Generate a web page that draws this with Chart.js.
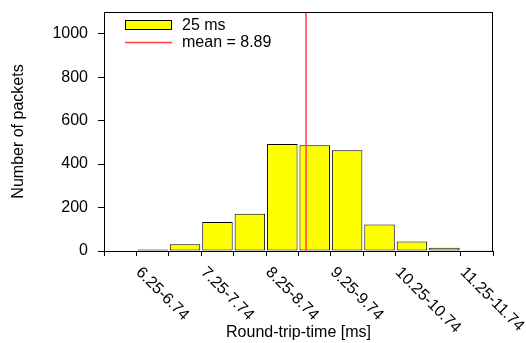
<!DOCTYPE html>
<html>
<head>
<meta charset="utf-8">
<script src="https://cdn.jsdelivr.net/npm/chart.js@4.4.0/dist/chart.umd.min.js"></script>
<style>
  html, body { margin: 0; padding: 0; background: #fff; }
  #wrap { width: 526px; height: 343px; }
</style>
</head>
<body>
<div id="wrap"><canvas id="rtt" width="526" height="343"></canvas></div>
<script>
// histogram bins, 0.5 ms wide (first slot stays empty)
const bins = ['5.75-6.24', '6.25-6.74', '6.75-7.24', '7.25-7.74', '7.75-8.24', '8.25-8.74',
  '8.75-9.24', '9.25-9.74', '9.75-10.24', '10.25-10.74', '10.75-11.24', '11.25-11.74'];
const packets = [null, 7, 31, 133, 171, 493, 487, 464, 122, 44, 15, 3];
const labeledBins = ['6.25-6.74', '7.25-7.74', '8.25-8.74', '9.25-9.74', '10.25-10.74', '11.25-11.74'];
const yTicks = [0, 200, 400, 600, 800, 1000];
const yMax = 1100;
const meanRtt = 8.89;
const rttRange = [5.75, 11.75];

const FONT = '"Liberation Sans", Arial, sans-serif';
Chart.defaults.font.family = FONT;
Chart.defaults.font.size = 16;
Chart.defaults.color = '#000';

// x labels are written from the tick downwards, like gnuplot does
const rotatedTicks = {
  id: 'rotatedTicks',
  afterDraw(chart) {
    const ctx = chart.ctx;
    const x = chart.scales.x;
    const y0 = chart.chartArea.bottom;
    ctx.save();
    ctx.font = '16px ' + FONT;
    ctx.fillStyle = '#000';
    ctx.textAlign = 'left';
    ctx.textBaseline = 'middle';
    bins.forEach(function(b, i) {
      if (!labeledBins.includes(b)) return;
      const px = x.getPixelForValue(i - 0.5);
      ctx.save();
      ctx.translate(px + 2, y0 + 19);
      ctx.rotate(Math.PI / 4);
      ctx.fillText(b, 0, 0);
      ctx.restore();
    });
    ctx.restore();
  }
};

// frame around the plot + legend inside the top left corner
const frameAndKey = {
  id: 'frameAndKey',
  afterDatasetsDraw(chart) {
    const ctx = chart.ctx;
    const a = chart.chartArea;
    ctx.save();
    ctx.strokeStyle = '#000';
    ctx.lineWidth = 1;
    ctx.strokeRect(Math.round(a.left) + 0.5, Math.round(a.top) + 0.5,
      Math.round(a.right - a.left) - 1, Math.round(a.bottom - a.top));

    const ds = chart.data.datasets;
    const kx = Math.round(a.left) + 21, w = 47;
    const ky = Math.round(a.top);
    ctx.fillStyle = ds[0].backgroundColor;
    ctx.fillRect(kx, ky + 8, w, 9);
    ctx.strokeStyle = ds[0].borderColor;
    ctx.strokeRect(kx + 0.5, ky + 8.5, w - 1, 9);
    ctx.strokeStyle = ds[1].borderColor;
    ctx.lineWidth = ds[1].borderWidth;
    ctx.beginPath();
    ctx.moveTo(kx, ky + 30.5);
    ctx.lineTo(kx + w, ky + 30.5);
    ctx.stroke();

    ctx.font = '16px ' + FONT;
    ctx.fillStyle = '#000';
    ctx.textAlign = 'left';
    ctx.textBaseline = 'middle';
    ctx.fillText(ds[0].label, kx + w + 10, ky + 13.5);
    ctx.fillText(ds[1].label, kx + w + 10, ky + 30.5);
    ctx.restore();
  }
};

new Chart(document.getElementById('rtt'), {
  type: 'bar',
  data: {
    labels: bins,
    datasets: [{
      label: '25 ms',
      data: packets,
      backgroundColor: '#ffff00',
      borderColor: '#000000',
      borderWidth: 1,
      borderSkipped: false,
      grouped: false,
      barPercentage: 0.94,
      categoryPercentage: 1,
      order: 1
    }, {
      type: 'line',
      label: 'mean = ' + meanRtt,
      data: [{x: meanRtt, y: 0}, {x: meanRtt, y: yMax}],
      xAxisID: 'xv',
      borderColor: '#ff4040',
      borderWidth: 1.5,
      pointRadius: 0,
      order: 0
    }]
  },
  options: {
    responsive: false,
    animation: false,
    layout: { padding: { top: 12, right: 33, left: 0, bottom: 0 } },
    plugins: {
      legend: { display: false },
      tooltip: { enabled: false }
    },
    scales: {
      x: {
        type: 'category',
        offset: true,
        grid: { offset: true, drawOnChartArea: false, tickLength: 5, color: '#000' },
        border: { color: '#000' },
        ticks: { display: false },
        title: { display: true, text: 'Round-trip-time [ms]', padding: { top: 0, bottom: 0.5 } },
        afterFit(s) { s.height = 92; s.paddingLeft = 0; s.paddingRight = 0; }
      },
      // same width as x, in ms, only used to place the mean line
      xv: {
        type: 'linear',
        position: 'bottom',
        min: rttRange[0],
        max: rttRange[1],
        grid: { display: false },
        border: { display: false },
        ticks: { display: false },
        afterFit(s) { s.height = 0; s.paddingLeft = 0; s.paddingRight = 0; }
      },
      y: {
        min: 0,
        max: yMax,
        afterBuildTicks(s) { s.ticks = yTicks.map(function(v) { return {value: v}; }); },
        grid: { drawOnChartArea: false, tickLength: 6, color: '#000' },
        border: { color: '#000' },
        ticks: { padding: 10, callback: function(v) { return String(v); } },
        title: { display: true, text: 'Number of packets', padding: { top: 9, bottom: 0 } },
        afterFit(s) { s.width = 104; s.paddingTop = 0; s.paddingBottom = 0; }
      }
    }
  },
  plugins: [rotatedTicks, frameAndKey]
});
</script>
</body>
</html>
